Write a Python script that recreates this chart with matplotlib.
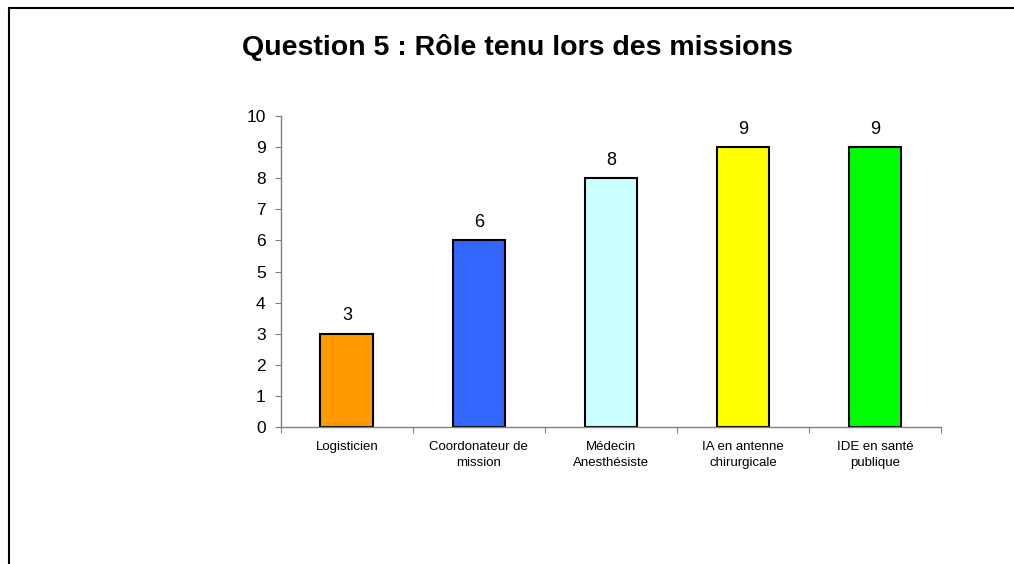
import matplotlib
matplotlib.use("Agg")
import matplotlib.pyplot as plt
from matplotlib.lines import Line2D

plt.rcParams["font.family"] = ["Liberation Sans", "DejaVu Sans"]

roles = ["Logisticien", "Coordonateur de\nmission", "Médecin\nAnesthésiste",
         "IA en antenne\nchirurgicale", "IDE en santé\npublique"]
counts = [3, 6, 8, 9, 9]
colors = ["#FF9900", "#3366FF", "#CCFFFF", "#FFFF00", "#00FF00"]
y_ticks = list(range(0, 11))


def main():
    fig = plt.figure(figsize=(10.14, 5.64), dpi=100)
    ax = fig.add_axes([0.277, 0.243, 0.651, 0.551])

    x = list(range(len(roles)))
    bars = ax.bar(x, counts, width=0.4, color=colors, edgecolor="black", linewidth=1.5)
    for bar, val in zip(bars, counts):
        ax.annotate(str(val), (bar.get_x() + bar.get_width() / 2, val),
                    xytext=(0, 7), textcoords="offset points",
                    ha="center", va="bottom", fontsize=13)

    ax.set_xlim(-0.5, len(roles) - 0.5)
    ax.set_ylim(0, 10)
    ax.set_yticks(y_ticks)
    ax.tick_params(axis="y", labelsize=12.5, direction="out", length=4, pad=7,
                   color="#808080")

    ax.set_xticks([i - 0.5 for i in range(len(roles) + 1)], minor=False)
    ax.set_xticklabels([])
    ax.set_xticks(x, minor=True)
    ax.set_xticklabels(roles, minor=True, fontsize=9.5, linespacing=1.5)
    ax.tick_params(axis="x", which="major", direction="out", length=4, color="#808080")
    ax.tick_params(axis="x", which="minor", length=0, pad=10)

    for side in ["top", "right"]:
        ax.spines[side].set_visible(False)
    for side in ["left", "bottom"]:
        ax.spines[side].set_color("#808080")
        ax.spines[side].set_linewidth(1)

    fig.text(0.51, 0.915, "Question 5 : Rôle tenu lors des missions",
             ha="center", va="center", fontsize=20.5, fontweight="bold")

    fig.add_artist(Line2D([0.009, 0.009], [0, 0.986], color="black", linewidth=1.5,
                          transform=fig.transFigure))
    fig.add_artist(Line2D([0.009, 1], [0.986, 0.986], color="black", linewidth=1.5,
                          transform=fig.transFigure))

    fig.savefig("out.png", dpi=100)


if __name__ == "__main__":
    main()
